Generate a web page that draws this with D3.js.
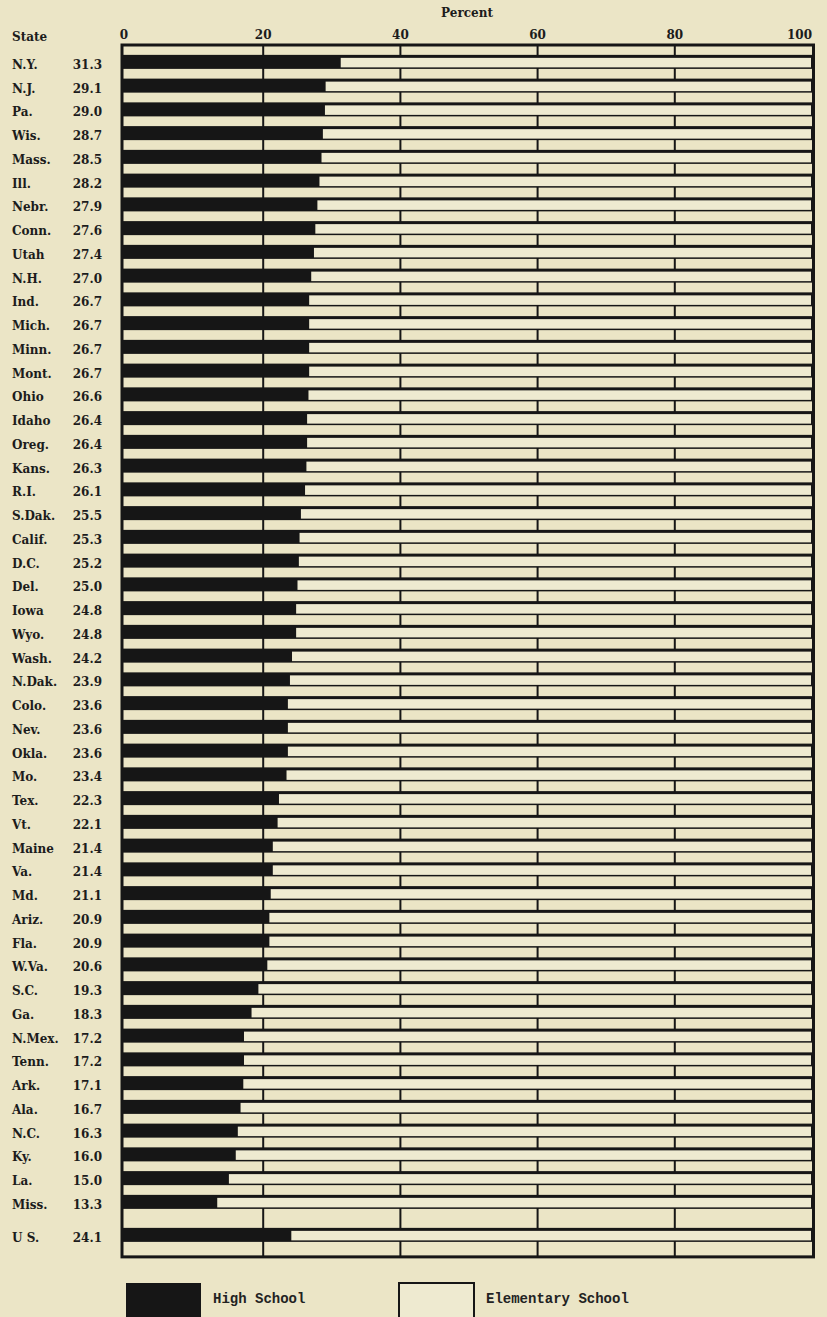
<!DOCTYPE html>
<html>
<head>
<meta charset="utf-8">
<script src="https://cdn.jsdelivr.net/npm/d3@7"></script>
<style>
  html, body { margin: 0; padding: 0; background: #ebe5c6; }
  svg { display: block; }
  .lbl { font-family: "DejaVu Serif", serif; font-weight: bold; font-size: 12px; fill: #1c1c1c; }
  .leg { font-family: "Liberation Mono", monospace; font-weight: bold; font-size: 14px; fill: #222; }
</style>
</head>
<body>
<div id="chart"></div>
<script>
  // states, ranked by percent of enrollment in high school
  var states = ["N.Y.", "N.J.", "Pa.", "Wis.", "Mass.", "Ill.", "Nebr.", "Conn.", "Utah", "N.H.",
    "Ind.", "Mich.", "Minn.", "Mont.", "Ohio", "Idaho", "Oreg.", "Kans.", "R.I.", "S.Dak.",
    "Calif.", "D.C.", "Del.", "Iowa", "Wyo.", "Wash.", "N.Dak.", "Colo.", "Nev.", "Okla.",
    "Mo.", "Tex.", "Vt.", "Maine", "Va.", "Md.", "Ariz.", "Fla.", "W.Va.", "S.C.",
    "Ga.", "N.Mex.", "Tenn.", "Ark.", "Ala.", "N.C.", "Ky.", "La.", "Miss."];
  var highSchool = [31.3, 29.1, 29.0, 28.7, 28.5, 28.2, 27.9, 27.6, 27.4, 27.0,
    26.7, 26.7, 26.7, 26.7, 26.6, 26.4, 26.4, 26.3, 26.1, 25.5,
    25.3, 25.2, 25.0, 24.8, 24.8, 24.2, 23.9, 23.6, 23.6, 23.6,
    23.4, 22.3, 22.1, 21.4, 21.4, 21.1, 20.9, 20.9, 20.6, 19.3,
    18.3, 17.2, 17.2, 17.1, 16.7, 16.3, 16.0, 15.0, 13.3];
  var usLabel = "U S.";
  var usValue = 24.1;
  var tickValues = [0, 20, 40, 60, 80, 100];
  var legendItems = ["High School", "Elementary School"];

  var W = 827, H = 1317;
  var ink = "#161616", cell = "#eeead0";

  var svg = d3.select("#chart").append("svg")
    .attr("width", W)
    .attr("height", H);

  var x = d3.scaleLinear().domain([0, 100]).range([126, 812]);
  var y = d3.scaleBand()
    .domain(states)
    .range([50, 50 + states.length * 23.75])
    .paddingInner(0.41)
    .paddingOuter(0.205);
  var bw = y.bandwidth();
  var usY = y(states[states.length - 1]) + 33;
  var frameTop = 45, frameBottom = usY + bw + 15;

  var rows = states.map(function (s, i) {
    return { name: s, value: highSchool[i], y: y(s) };
  });
  rows.push({ name: usLabel, value: usValue, y: usY });

  // grid lines (only visible in the gaps)
  svg.append("g").selectAll("line")
    .data(tickValues.slice(1, -1))
    .join("line")
    .attr("x1", function (d) { return x(d); })
    .attr("x2", function (d) { return x(d); })
    .attr("y1", frameTop)
    .attr("y2", frameBottom)
    .style("stroke", ink)
    .style("stroke-width", 2);

  var bar = svg.append("g").selectAll("g")
    .data(rows)
    .join("g");

  // whole row in black, then the elementary part painted light inside
  bar.append("rect")
    .attr("x", x(0) - 3)
    .attr("y", function (d) { return d.y; })
    .attr("width", x(100) - x(0) + 3)
    .attr("height", bw)
    .style("fill", ink);

  bar.append("rect")
    .attr("x", function (d) { return x(d.value); })
    .attr("y", function (d) { return d.y + 3; })
    .attr("width", function (d) { return x(100) - x(d.value) - 1; })
    .attr("height", bw - 4.5)
    .style("fill", cell);

  // frame
  svg.append("rect")
    .attr("x", 122)
    .attr("y", frameTop)
    .attr("width", x(100) - 122 + 1.5)
    .attr("height", frameBottom - frameTop)
    .style("fill", "none")
    .style("stroke", ink)
    .style("stroke-width", 3);

  // labels
  bar.append("text")
    .attr("class", "lbl")
    .attr("x", 12)
    .attr("y", function (d) { return d.y + bw / 2 + 7; })
    .text(function (d) { return d.name; });

  bar.append("text")
    .attr("class", "lbl")
    .attr("x", 102)
    .attr("text-anchor", "end")
    .attr("y", function (d) { return d.y + bw / 2 + 7; })
    .text(function (d) { return d.value.toFixed(1); });

  svg.append("text")
    .attr("class", "lbl")
    .attr("x", 12)
    .attr("y", 41)
    .text("State");

  svg.append("text")
    .attr("class", "lbl")
    .attr("x", 467)
    .attr("y", 17)
    .attr("text-anchor", "middle")
    .text("Percent");

  svg.append("g").selectAll("text")
    .data(tickValues)
    .join("text")
    .attr("class", "lbl")
    .attr("x", function (d) { return d === 0 ? x(d) - 2 : x(d); })
    .attr("y", 39)
    .attr("text-anchor", function (d) { return d === 100 ? "end" : "middle"; })
    .text(function (d) { return d; });

  // legend
  var lg = svg.append("g").selectAll("g")
    .data(legendItems)
    .join("g")
    .attr("transform", function (d, i) { return "translate(" + (i === 0 ? 126 : 399) + ",1283)"; });

  lg.append("rect")
    .attr("width", 75)
    .attr("height", 40)
    .style("fill", function (d, i) { return i === 0 ? ink : cell; })
    .style("stroke", ink)
    .style("stroke-width", function (d, i) { return i === 0 ? 0 : 2; });

  lg.append("text")
    .attr("class", "leg")
    .attr("x", 87)
    .attr("y", 20)
    .text(function (d) { return d; });
</script>
</body>
</html>
